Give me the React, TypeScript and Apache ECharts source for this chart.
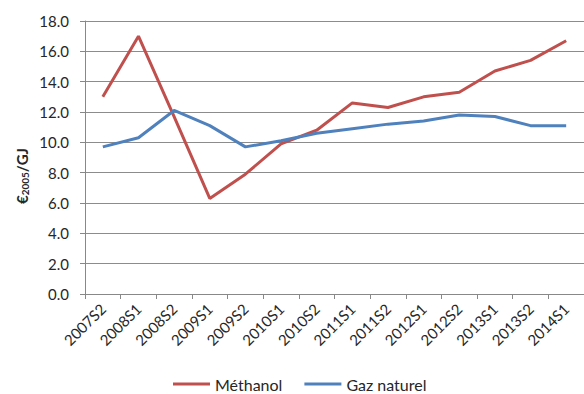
import React, { useEffect, useRef } from "react";
import * as echarts from "echarts";

const categories = [
  "2007S2", "2008S1", "2008S2", "2009S1", "2009S2", "2010S1", "2010S2",
  "2011S1", "2011S2", "2012S1", "2012S2", "2013S1", "2013S2", "2014S1",
];
const methanol = [13.0, 17.0, 11.7, 6.3, 7.9, 9.9, 10.8, 12.6, 12.3, 13.0, 13.3, 14.7, 15.4, 16.7];
const gazNaturel = [9.7, 10.3, 12.1, 11.1, 9.7, 10.1, 10.6, 10.9, 11.2, 11.4, 11.8, 11.7, 11.1, 11.1];
const seriesNames = ["Méthanol", "Gaz naturel"];

const FONT = "Lato";
const TXT = "#262626";

export default function App() {
  const ref = useRef<HTMLDivElement>(null);
  useEffect(() => {
    if (!ref.current) return;
    const chart = echarts.init(ref.current, null, { renderer: "svg" });
    chart.setOption({
      animation: false,
      backgroundColor: "#ffffff",
      grid: { left: 85, top: 21, width: 504, height: 273, containLabel: false },
      legend: {
        left: 168,
        top: 371,
        icon: "rect",
        itemWidth: 37,
        itemHeight: 3,
        itemGap: 22,
        textStyle: { fontFamily: FONT, fontSize: 16, color: TXT },
        data: seriesNames,
      },
      xAxis: {
        type: "category",
        data: categories,
        boundaryGap: true,
        axisLine: { lineStyle: { color: "#888888", width: 1 } },
        axisTick: { show: true, length: 5, alignWithLabel: false, lineStyle: { color: "#888888" } },
        axisLabel: {
          rotate: 45,
          interval: 0,
          margin: 12,
          fontFamily: FONT,
          fontSize: 15,
          color: TXT,
        },
      },
      yAxis: {
        type: "value",
        min: 0,
        max: 18,
        interval: 2,
        axisLine: { show: true, lineStyle: { color: "#888888", width: 1 } },
        axisTick: { show: true, length: 5, inside: false, lineStyle: { color: "#888888" } },
        splitLine: { show: true, lineStyle: { color: "#8c8c8c", width: 1 } },
        axisLabel: {
          margin: 16,
          fontFamily: FONT,
          fontSize: 15,
          color: TXT,
          formatter: (v: number) => v.toFixed(1),
        },
      },
      graphic: [
        {
          type: "text",
          x: 22,
          y: 176,
          rotation: Math.PI / 2,
          style: {
            text: "{a|€}{b|2005}{a|/GJ}",
            align: "center",
            verticalAlign: "middle",
            rich: {
              a: { fontFamily: FONT, fontSize: 15, fontWeight: "bold", fill: TXT, color: TXT },
              b: {
                fontFamily: FONT,
                fontSize: 10,
                fontWeight: "bold",
                fill: TXT,
                color: TXT,
                padding: [6, 0, 0, 0],
              },
            },
          },
        },
      ],
      series: [
        {
          name: seriesNames[0],
          type: "line",
          data: methanol,
          showSymbol: false,
          symbol: "none",
          color: "#C0504D",
          lineStyle: { color: "#C0504D", width: 3 },
        },
        {
          name: seriesNames[1],
          type: "line",
          data: gazNaturel,
          showSymbol: false,
          symbol: "none",
          color: "#4F81BD",
          lineStyle: { color: "#4F81BD", width: 3 },
        },
      ],
    });
    return () => chart.dispose();
  }, []);
  return (
    <div
      ref={ref}
      style={{ position: "fixed", left: 0, top: 0, width: 584, height: 394, background: "#fff" }}
    />
  );
}
